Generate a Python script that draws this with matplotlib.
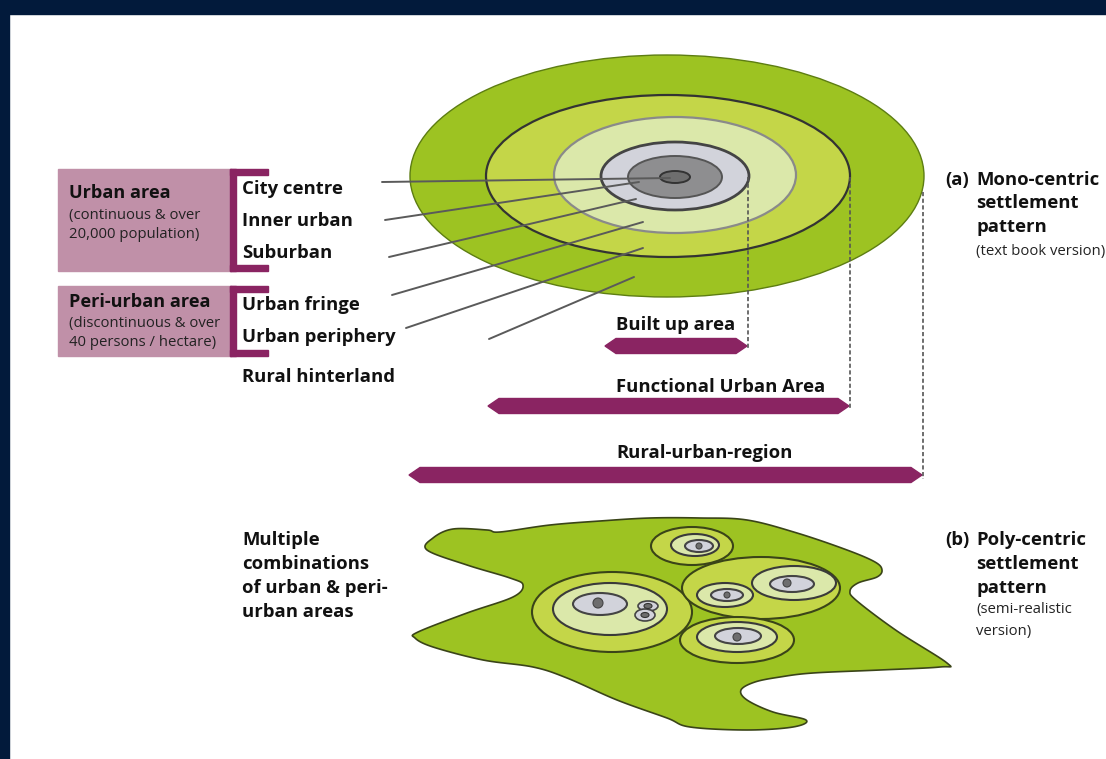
import numpy as np
import matplotlib
matplotlib.use("Agg")
import matplotlib.pyplot as plt
from matplotlib.patches import Ellipse, Polygon, Rectangle

plt.rcParams['font.family'] = ['Open Sans', 'DejaVu Sans']

W, H = 1106, 759

NAVY = '#021a3b'
MAUVE = '#c090a8'
PURPLE = '#8a2462'
GREEN = '#9dc322'
RING = '#c4d648'
PALE = '#dbe8aa'
LGRAY = '#d2d3db'
MGRAY = '#8e8e90'
DGRAY = '#6e6e6e'
OUTLINE = '#3a4418'

# mono-centric rings: centre x, centre y, half width, half height, fill, edge, edge width
mono_rings = [
    (667, 176, 257, 121, GREEN, '#5d7d12', 1.0),
    (668, 176, 182, 81, RING, '#333333', 1.6),
    (675, 175, 121, 58, PALE, '#8a8a8a', 1.6),
    (675, 176, 74, 34, LGRAY, '#444444', 2.0),
    (675, 177, 47, 21, MGRAY, '#555555', 1.4),
    (675, 177, 15, 6, DGRAY, '#333333', 1.4),
]

# leader lines from labels into the rings
leader_start = [(382, 182), (385, 220), (389, 257), (392, 295), (406, 328), (489, 339)]
leader_end = [(670, 178), (639, 182), (636, 199), (643, 222), (643, 248), (634, 277)]

# zone labels
zone_labels = ['City centre', 'Inner urban', 'Suburban', 'Urban fringe',
               'Urban periphery', 'Rural hinterland']
zone_y = [189, 221, 253, 305, 337, 377]

# left group boxes: top, bottom, title, two sub lines
groups = [
    (169, 271, 'Urban area', '(continuous & over', '20,000 population)', 193, 216, 235),
    (286, 356, 'Peri-urban area', '(discontinuous & over', '40 persons / hectare)', 302, 323, 342),
]

# extent bars: left tip, right tip, y centre, label, label y, dashed top
bars = [
    (605, 747, 346, 'Built up area', 325, 177),
    (488, 849, 406, 'Functional Urban Area', 387, 177),
    (409, 922, 475, 'Rural-urban-region', 453, 192),
]

# poly-centric blob outline
blob = [(427, 550), (433, 538), (453, 529), (487, 530), (500, 532), (550, 525),
        (600, 521), (650, 518), (700, 518), (747, 520), (797, 533), (847, 550),
        (875, 562), (882, 570), (877, 577), (858, 583), (850, 591), (857, 601),
        (897, 631), (947, 663), (940, 667), (880, 670), (813, 673), (780, 677),
        (755, 682), (741, 690), (747, 700), (773, 712), (806, 720), (793, 727),
        (747, 730), (690, 727), (667, 718), (617, 700), (567, 678), (533, 667),
        (483, 660), (433, 647), (415, 638), (418, 632), (467, 613), (513, 597),
        (523, 585), (510, 578), (467, 565)]

# settlements: ring ellipse, pale ellipse, gray ellipse, dot (cx, cy, a, b)
settlements = [
    [(612, 612, 80, 40), (610, 609, 57, 26), (600, 604, 27, 11), (598, 603, 5, 5)],
    [(692, 546, 41, 19), (695, 545, 24, 11), (699, 546, 14, 6), (699, 546, 3, 3)],
    [(761, 588, 79, 31), None, None, None],
    [None, (794, 583, 42, 17), (792, 584, 22, 8), (787, 583, 4, 4)],
    [None, (725, 595, 28, 12), (727, 595, 16, 6), (727, 595, 3, 3)],
    [(737, 640, 57, 23), (737, 637, 40, 15), (738, 636, 23, 8), (737, 637, 4, 4)],
]
tiny = [(648, 606, 10, 5), (645, 615, 10, 6)]

fig = plt.figure(figsize=(W / 100, H / 100), dpi=100)
ax = fig.add_axes([0, 0, 1, 1])
ax.set_xlim(0, W)
ax.set_ylim(H, 0)
ax.axis('off')

# frame
ax.add_patch(Rectangle((0, 0), W, 14, color=NAVY, zorder=0))
ax.add_patch(Rectangle((0, 0), 9, H, color=NAVY, zorder=0))


def smooth(pts, n=12):
    p = np.array(pts, dtype=float)
    out = []
    m = len(p)
    for i in range(m):
        p0, p1, p2, p3 = p[i - 1], p[i], p[(i + 1) % m], p[(i + 2) % m]
        for t in np.linspace(0, 1, n, endpoint=False):
            t2, t3 = t * t, t * t * t
            out.append(0.5 * ((2 * p1) + (-p0 + p2) * t +
                              (2 * p0 - 5 * p1 + 4 * p2 - p3) * t2 +
                              (-p0 + 3 * p1 - 3 * p2 + p3) * t3))
    return np.array(out)


BIG = 13.3
TITLE = 13.1
SMALL = 10.7
INK = '#111111'

# mono-centric rings
for cx, cy, a, b, fc, ec, lw in mono_rings:
    ax.add_patch(Ellipse((cx, cy), 2 * a, 2 * b, facecolor=fc, edgecolor=ec, lw=lw, zorder=2))

for (x0, y0), (x1, y1) in zip(leader_start, leader_end):
    ax.plot([x0, x1], [y0, y1], color='#5a5a5a', lw=1.4, zorder=3, solid_capstyle='round')

# group boxes and brackets
for top, bot, title, s1, s2, ty, y1, y2 in groups:
    ax.add_patch(Rectangle((58, top), 173, bot - top, color=MAUVE, zorder=1))
    ax.add_patch(Rectangle((230, top), 6, bot - top, color=PURPLE, zorder=2))
    ax.add_patch(Rectangle((230, top), 38, 6, color=PURPLE, zorder=2))
    ax.add_patch(Rectangle((230, bot - 6), 38, 6, color=PURPLE, zorder=2))
    ax.text(69, ty, title, fontsize=TITLE, fontweight='bold', color=INK, va='center')
    ax.text(69, y1, s1, fontsize=SMALL, color='#222222', va='center')
    ax.text(69, y2, s2, fontsize=SMALL, color='#222222', va='center')

for lab, y in zip(zone_labels, zone_y):
    ax.text(242, y, lab, fontsize=BIG, fontweight='bold', color=INK, va='center')

# extent bars with dashed guides
for xl, xr, y, lab, ly, dtop in bars:
    h, tip = 7.5, 11
    pts = [(xl, y), (xl + tip, y - h), (xr - tip, y - h), (xr, y),
           (xr - tip, y + h), (xl + tip, y + h)]
    ax.add_patch(Polygon(pts, closed=True, color=PURPLE, zorder=3))
    ax.plot([xr + 1, xr + 1], [dtop, y + 4], color='#555555', lw=1.2,
            linestyle=(0, (2.5, 1.5)), zorder=4)
    ax.text(616, ly, lab, fontsize=BIG, fontweight='bold', color=INK, va='center')

# right-hand captions
ax.text(945, 180, '(a)', fontsize=BIG, fontweight='bold', color=INK, va='center')
for txt, y in zip(['Mono-centric', 'settlement', 'pattern'], [180, 203, 227]):
    ax.text(976, y, txt, fontsize=BIG, fontweight='bold', color=INK, va='center')
ax.text(976, 252, '(text book version)', fontsize=SMALL, color='#222222', va='center')

ax.text(945, 540, '(b)', fontsize=BIG, fontweight='bold', color=INK, va='center')
for txt, y in zip(['Poly-centric', 'settlement', 'pattern'], [540, 564, 588]):
    ax.text(976, y, txt, fontsize=BIG, fontweight='bold', color=INK, va='center')
for txt, y in zip(['(semi-realistic', 'version)'], [610, 632]):
    ax.text(976, y, txt, fontsize=SMALL, color='#222222', va='center')

for txt, y in zip(['Multiple', 'combinations', 'of urban & peri-', 'urban areas'],
                  [540, 564, 588, 612]):
    ax.text(242, y, txt, fontsize=BIG, fontweight='bold', color=INK, va='center')

# poly-centric blob
ax.add_patch(Polygon(smooth(blob), closed=True, facecolor=GREEN, edgecolor=OUTLINE,
                     lw=1.2, zorder=2))
fills = [RING, PALE, LGRAY, DGRAY]
edges = [OUTLINE, '#3a3a3a', '#444444', '#444444']
for s in settlements:
    for k, e in enumerate(s):
        if e is None:
            continue
        cx, cy, a, b = e
        ax.add_patch(Ellipse((cx, cy), 2 * a, 2 * b, facecolor=fills[k], edgecolor=edges[k],
                             lw=1.5 if k < 3 else 0.8, zorder=3 + k * 0.1 + (0.5 if s[0] is None else 0)))
for cx, cy, a, b in tiny:
    ax.add_patch(Ellipse((cx, cy), 2 * a, 2 * b, facecolor=LGRAY, edgecolor='#444444', lw=1.2, zorder=4))
    ax.add_patch(Ellipse((cx, cy), 8, 5, facecolor=DGRAY, edgecolor='#333333', lw=0.8, zorder=4.1))

fig.savefig('out.png', dpi=100)
